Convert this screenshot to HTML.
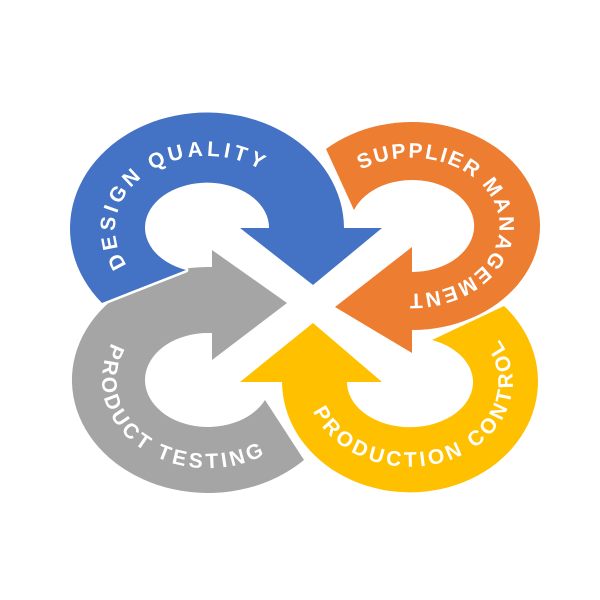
<!DOCTYPE html>
<html><head><style>html,body{margin:0;padding:0;background:#fff}svg{display:block}</style></head>
<body>
<svg width="600" height="600" viewBox="0 0 600 600" xmlns="http://www.w3.org/2000/svg">
<defs>
<path id="tb" d="M 127 265 A 92 73 0 1 1 293 203"/>
<path id="to" d="M 361 170 A 88 68 0 1 1 355 278"/>
<path id="ty" d="M 313 411 A 103 85 0 1 0 461 308"/>
<path id="tg" d="M 112 343 A 106 88 0 0 0 300 424"/>
</defs>
<g stroke="#fff" stroke-width="5" stroke-linejoin="round" paint-order="stroke">
<path fill="#a5a5a5" d="M 304 460 A 136 113 0 1 1 208 267 L 212 267 L 212 250 L 287 303 L 212 360 L 212 333 L 208 333 A 63 47 0 1 0 265 400 Z"/>
<path fill="#4472c4" d="M 102 303 A 137 116 0 1 1 344 228 L 382 228 L 313 285 L 240 228 L 269 228 A 62 45 0 1 0 186 270 Z"/>
<path fill="#ed7d31" d="M 326 149 A 128 104 0 1 1 412 330 L 412 353 L 335 307 L 412 247 L 412 272 A 62 46 0 1 0 354 210 Z"/>
<path fill="#ffc000" d="M 504 306 A 128 111 0 1 1 282 382 L 240 382 L 313 323 L 382 382 L 347 382 A 63 45 0 1 0 432 340 Z"/>
</g>
<g font-family="Liberation Sans, sans-serif" font-weight="bold" font-size="21" fill="#fff" letter-spacing="3.5">
<text><textPath href="#tb">DESIGN QUALITY</textPath></text>
<text letter-spacing="2"><textPath href="#to">SUPPLIER MANAGEMENT</textPath></text>
<text><textPath href="#ty">PRODUCTION CONTROL</textPath></text>
<text><textPath href="#tg">PRODUCT TESTING</textPath></text>
</g>
</svg>
</body></html>
